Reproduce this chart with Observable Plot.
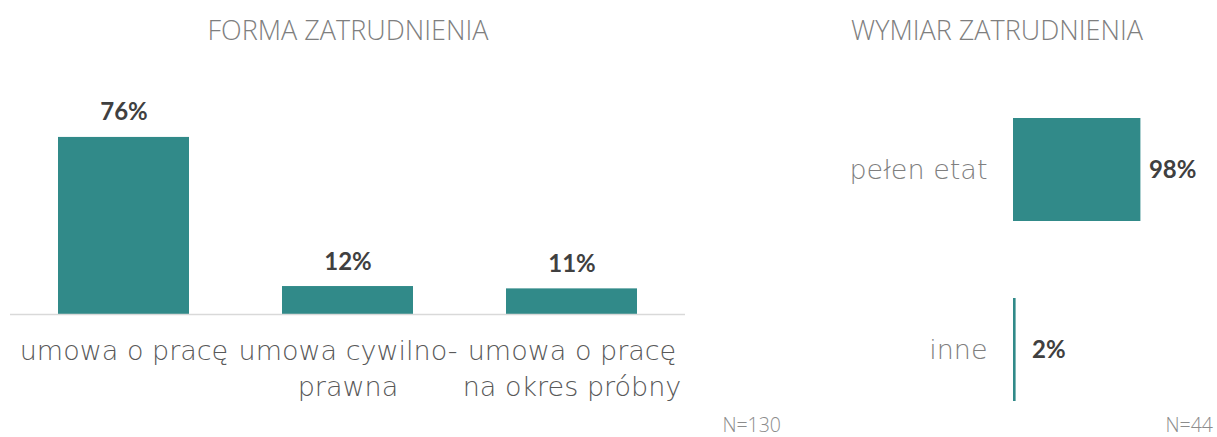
<!DOCTYPE html>
<html>
<head>
<meta charset="utf-8">
<script src="https://cdn.jsdelivr.net/npm/d3@7"></script>
<script src="https://cdn.jsdelivr.net/npm/@observablehq/plot@0.6"></script>
<style>
  html, body { margin: 0; padding: 0; background: #fff; }
  #wrap { position: relative; width: 1217px; height: 437px; overflow: hidden; }
  .panel { position: absolute; top: 0; }
  .title { position: absolute; font-family: "Open Sans", sans-serif; font-weight: 300; font-size: 27px; color: #7f7f7f; white-space: nowrap; transform: translate(-50%, -50%); line-height: 1.2; }
  .note { position: absolute; font-family: "Open Sans", sans-serif; font-weight: 300; font-size: 19.5px; color: #8c8c8c; white-space: nowrap; transform: translate(-100%, -50%); line-height: 1; }
</style>
</head>
<body>
<div id="wrap">
  <div id="left" class="panel" style="left:0"></div>
  <div id="right" class="panel" style="left:700px"></div>
  <div class="title" style="left:348px; top:30px">FORMA ZATRUDNIENIA</div>
  <div class="title" style="left:997px; top:30px">WYMIAR ZATRUDNIENIA</div>
  <div class="note" style="left:781px; top:425px">N=130</div>
  <div class="note" style="left:1213px; top:425px">N=44</div>
</div>
<script>
const formaCats = ["umowa o pracę", "umowa cywilno-prawna", "umowa o pracę na okres próbny"];
const formaLabels = ["umowa o pracę", "umowa cywilno-\nprawna", "umowa o pracę\nna okres próbny"];
const formaValues = [76, 12, 11];

const wymiarCats = ["pełen etat", "inne"];
const wymiarValues = [98, 2];

const teal = "#318a89";
const catFont = "'DejaVu Sans', sans-serif";
const valFont = "Lato, 'Open Sans', sans-serif";

const forma = formaCats.map((c, i) => ({cat: c, label: formaLabels[i], value: formaValues[i]}));
const wymiar = wymiarCats.map((c, i) => ({cat: c, value: wymiarValues[i]}));

const left = Plot.plot({
  width: 700, height: 437,
  marginLeft: 10, marginRight: 15, marginTop: 81, marginBottom: 123,
  x: {domain: formaCats, paddingInner: 0.413, paddingOuter: 0.207, axis: null},
  y: {domain: [0, 100], axis: null},
  marks: [
    Plot.barY(forma, {x: "cat", y: "value", fill: teal}),
    Plot.ruleY([0], {stroke: "#d9d9d9", strokeWidth: 1.5}),
    Plot.text(forma, {x: "cat", y: "value", text: d => d.value + "%", lineAnchor: "bottom", dy: -17,
      fontFamily: valFont, fontWeight: "bold", fontSize: 24, fill: "#404040"}),
    Plot.text(forma, {x: "cat", y: 0, text: "label", lineAnchor: "top", dy: 21, lineHeight: 1.3,
      fontFamily: catFont, fontWeight: 200, fontSize: 27, fill: "#595959"})
  ]
});
document.getElementById("left").appendChild(left);

const right = Plot.plot({
  width: 517, height: 437,
  marginLeft: 313, marginRight: 74, marginTop: 82, marginBottom: 0,
  x: {domain: [0, 100], axis: null},
  y: {domain: wymiarCats, paddingInner: 0.43, paddingOuter: 0.2, axis: null},
  marks: [
    Plot.barX(wymiar, {y: "cat", x: "value", fill: teal}),
    Plot.text(wymiar, {y: "cat", x: 0, text: "cat", textAnchor: "end", dx: -26,
      fontFamily: catFont, fontWeight: 200, fontSize: 27, fill: "#7f7f7f"}),
    Plot.text(wymiar, {filter: d => d.value > 50, y: "cat", x: "value", text: d => d.value + "%", textAnchor: "start", dx: 8,
      fontFamily: valFont, fontWeight: "bold", fontSize: 24, fill: "#404040"}),
    Plot.text(wymiar, {filter: d => d.value <= 50, y: "cat", x: "value", text: d => d.value + "%", textAnchor: "start", dx: 16,
      fontFamily: valFont, fontWeight: "bold", fontSize: 24, fill: "#404040"})
  ]
});
document.getElementById("right").appendChild(right);
</script>
</body>
</html>
